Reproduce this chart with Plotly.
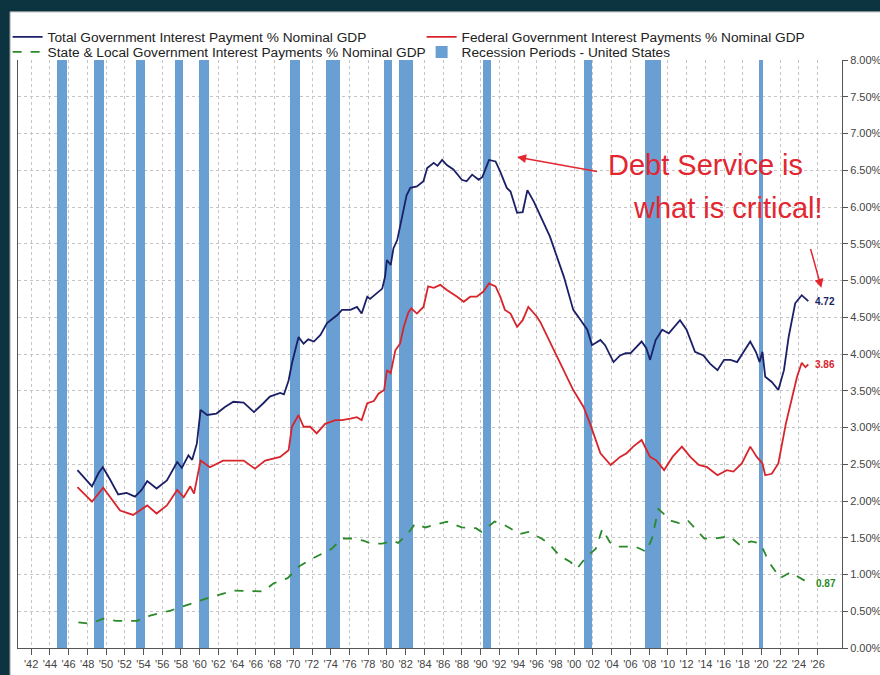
import plotly.graph_objects as go

# values (year, % of nominal GDP)
total_year = [1946.95, 1947.7, 1948.5, 1949.2, 1949.66, 1950.4, 1951.3, 1952.2, 1953.1, 1953.8,
              1954.4, 1955.4, 1956.5, 1957.6, 1958.1, 1958.8, 1959.2, 1959.7, 1960.1, 1960.8,
              1961.8, 1962.7, 1963.6, 1964.7, 1965.8, 1966.8, 1967.5, 1968.6, 1969.0, 1969.5,
              1969.85, 1970.56, 1971.1, 1971.6, 1972.2, 1972.9, 1973.6, 1974.7, 1975.2, 1976.1,
              1976.8, 1977.3, 1977.9, 1978.2, 1978.9, 1979.5, 1979.8, 1980.0, 1980.4, 1980.7,
              1981.1, 1981.6, 1982.1, 1982.5, 1983.2, 1983.9, 1984.3, 1985.0, 1985.4, 1985.9,
              1986.4, 1987.1, 1988.0, 1988.5, 1989.1, 1989.8, 1990.2, 1990.9, 1991.6, 1992.1,
              1992.8, 1993.2, 1993.9, 1994.5, 1995.0, 1995.7, 1996.4, 1997.4, 1998.9, 1999.9,
              2000.7, 2001.4, 2001.9, 2002.8, 2003.3, 2004.2, 2004.9, 2005.5, 2006.0, 2007.2,
              2007.7, 2008.1, 2008.7, 2009.4, 2010.1, 2010.6, 2011.3, 2012.0, 2012.9, 2013.8,
              2014.5, 2015.3, 2016.0, 2016.7, 2017.4, 2018.1, 2018.8, 2019.4, 2019.8, 2020.1,
              2020.4, 2021.1, 2021.8, 2022.4, 2022.9, 2023.6, 2024.3, 2025.0]
total_val = [2.42, 2.32, 2.20, 2.38, 2.46, 2.30, 2.09, 2.11, 2.06, 2.15,
             2.27, 2.17, 2.28, 2.53, 2.45, 2.62, 2.56, 2.78, 3.24, 3.17,
             3.19, 3.28, 3.35, 3.34, 3.21, 3.33, 3.42, 3.47, 3.45, 3.64,
             3.87, 4.23, 4.14, 4.20, 4.17, 4.26, 4.42, 4.53, 4.60, 4.60,
             4.64, 4.55, 4.78, 4.75, 4.83, 4.89, 5.05, 5.28, 5.21, 5.44,
             5.55, 5.87, 6.16, 6.26, 6.28, 6.35, 6.53, 6.60, 6.56, 6.64,
             6.57, 6.51, 6.37, 6.35, 6.44, 6.37, 6.41, 6.64, 6.62, 6.48,
             6.26, 6.21, 5.92, 5.93, 6.23, 6.07, 5.87, 5.60, 5.05, 4.60,
             4.46, 4.33, 4.12, 4.19, 4.12, 3.89, 3.98, 4.01, 4.01, 4.17,
             4.08, 3.92, 4.19, 4.33, 4.28, 4.35, 4.46, 4.33, 4.03, 3.98,
             3.87, 3.78, 3.92, 3.92, 3.89, 4.03, 4.17, 4.03, 3.89, 4.03,
             3.69, 3.62, 3.51, 3.78, 4.23, 4.69, 4.80, 4.72]

fed_year = [1946.95, 1948.5, 1949.7, 1951.5, 1952.9, 1954.4, 1955.4, 1956.5, 1957.6, 1958.3,
            1959.0, 1959.4, 1960.1, 1961.1, 1962.5, 1964.7, 1965.9, 1967.0, 1968.6, 1969.5,
            1969.85, 1970.56, 1971.1, 1971.8, 1972.5, 1973.4, 1974.5, 1975.2, 1976.1, 1976.8,
            1977.3, 1977.9, 1978.6, 1979.1, 1979.7, 1980.0, 1980.4, 1980.9, 1981.4, 1981.8,
            1982.3, 1982.6, 1983.2, 1983.9, 1984.4, 1985.0, 1985.7, 1986.4, 1987.5, 1988.2,
            1988.9, 1989.6, 1990.3, 1990.9, 1991.6, 1992.1, 1992.6, 1993.2, 1993.9, 1994.5,
            1995.1, 1996.0, 1996.4, 1998.2, 1999.9, 2001.0, 2001.7, 2002.8, 2003.9, 2004.9,
            2005.6, 2006.3, 2007.2, 2008.1, 2008.8, 2009.6, 2010.5, 2011.5, 2012.4, 2013.3,
            2014.2, 2015.3, 2016.3, 2017.0, 2017.9, 2018.8, 2019.5, 2020.1, 2020.4, 2021.1,
            2021.8, 2022.6, 2023.3, 2023.8, 2024.3, 2024.7, 2025.0]
fed_val = [2.19, 1.99, 2.18, 1.87, 1.81, 1.94, 1.83, 1.94, 2.15, 2.05,
           2.20, 2.10, 2.55, 2.46, 2.55, 2.55, 2.44, 2.55, 2.60, 2.69,
           3.01, 3.17, 3.01, 3.01, 2.92, 3.05, 3.10, 3.10, 3.12, 3.14,
           3.10, 3.33, 3.36, 3.46, 3.51, 3.78, 3.74, 4.05, 4.14, 4.37,
           4.57, 4.62, 4.55, 4.64, 4.92, 4.90, 4.94, 4.87, 4.78, 4.71,
           4.78, 4.78, 4.85, 4.96, 4.92, 4.78, 4.60, 4.55, 4.37, 4.46,
           4.64, 4.51, 4.43, 3.96, 3.51, 3.28, 3.05, 2.65, 2.49, 2.60,
           2.65, 2.74, 2.83, 2.60, 2.55, 2.42, 2.60, 2.74, 2.60, 2.49,
           2.46, 2.35, 2.42, 2.40, 2.51, 2.74, 2.60, 2.51, 2.35, 2.37,
           2.51, 3.05, 3.42, 3.69, 3.88, 3.82, 3.86]

sl_year = [1947.05, 1948.3, 1949.7, 1951.1, 1953.3, 1954.7, 1956.9, 1959.0, 1961.1, 1963.6,
           1966.8, 1967.9, 1969.4, 1970.6, 1972.1, 1974.1, 1975.2, 1976.4, 1977.5, 1978.3,
           1979.5, 1980.6, 1981.2, 1982.2, 1983.0, 1984.1, 1986.4, 1988.0, 1989.5, 1990.1,
           1991.5, 1992.6, 1994.2, 1995.1, 1996.5, 1997.3, 1998.4, 1999.6, 2000.3, 2001.3,
           2002.3, 2003.0, 2003.8, 2004.4, 2006.5, 2007.7, 2008.3, 2009.0, 2010.4, 2011.2,
           2012.1, 2013.9, 2015.0, 2016.6, 2017.7, 2018.9, 2019.9, 2020.8, 2022.0, 2023.1,
           2023.9, 2025.1]
sl_val = [0.35, 0.33, 0.40, 0.37, 0.37, 0.44, 0.51, 0.60, 0.69, 0.78,
          0.77, 0.88, 0.95, 1.11, 1.22, 1.35, 1.49, 1.49, 1.46, 1.42,
          1.42, 1.46, 1.43, 1.55, 1.69, 1.64, 1.72, 1.64, 1.63, 1.58,
          1.72, 1.67, 1.55, 1.58, 1.49, 1.42, 1.26, 1.17, 1.08, 1.24,
          1.35, 1.62, 1.44, 1.38, 1.38, 1.31, 1.49, 1.89, 1.73, 1.70,
          1.74, 1.49, 1.49, 1.52, 1.40, 1.45, 1.42, 1.17, 0.95, 1.03,
          0.97, 0.88]

# recession periods (start, end) as shaded in the chart
rec_start = [1944.8, 1948.7, 1953.2, 1957.4, 1959.9, 1969.6, 1973.5, 1979.7, 1981.3, 1990.3, 2001.0, 2007.6, 2019.75]
rec_end = [1945.8, 1949.8, 1954.2, 1958.2, 1961.0, 1970.7, 1975.0, 1980.5, 1982.8, 1991.1, 2001.85, 2009.3, 2020.2]
rec_top = 8.0

last_labels = ['4.72', '3.86', '0.87']

tick_years = list(range(1942, 2027, 2))
tick_text = ["'" + str(y)[2:] for y in tick_years]
y_ticks = [i * 0.5 for i in range(17)]
y_text = ['%.2f%%' % v for v in y_ticks]

NAVY = '#1b1f66'
RED = '#d8242b'
GREEN = '#2a8a2a'
BLUE = '#6a9fd4'
FRAME = '#0c3440'
PEN = '#e3262f'

fig = go.Figure()

fig.add_trace(go.Bar(
    x=[(s + e) / 2 for s, e in zip(rec_start, rec_end)],
    y=[rec_top] * len(rec_start),
    width=[e - s for s, e in zip(rec_start, rec_end)],
    marker=dict(color=BLUE, line=dict(width=0)),
    name='Recession Periods - United States', legend='legend2', legendrank=2))

fig.add_trace(go.Scatter(x=total_year, y=total_val, mode='lines',
                         line=dict(color=NAVY, width=1.8),
                         name='Total Government Interest Payment % Nominal GDP', legendrank=1))
fig.add_trace(go.Scatter(x=fed_year, y=fed_val, mode='lines',
                         line=dict(color=RED, width=1.8),
                         name='Federal Government Interest Payments % Nominal GDP', legendrank=2))
fig.add_trace(go.Scatter(x=sl_year, y=sl_val, mode='lines',
                         line=dict(color=GREEN, width=1.8, dash='dash'),
                         name='State & Local Government Interest Payments % Nominal GDP',
                         legend='legend2', legendrank=1))

# end-of-series labels
for txt, xs, ys, col in [(last_labels[0], total_year, total_val, NAVY),
                         (last_labels[1], fed_year, fed_val, RED),
                         (last_labels[2], sl_year, sl_val, GREEN)]:
    fig.add_annotation(x=xs[-1] + 0.5, y=ys[-1], text='<b>' + txt + '</b>', showarrow=False,
                       xanchor='left', yanchor='middle', font=dict(size=10, color=col))

# handwritten note
fig.add_annotation(x=2014.0, y=6.57, text='Debt Service is', showarrow=False,
                   font=dict(size=29, color=PEN, family='Liberation Sans'))
fig.add_annotation(x=2016.4, y=5.99, text='what is critical!', showarrow=False,
                   font=dict(size=29, color=PEN, family='Liberation Sans'))
fig.add_annotation(x=1993.9, y=6.68, ax=2002.6, ay=6.48, axref='x', ayref='y', xref='x', yref='y',
                   text='', showarrow=True, arrowhead=2, arrowsize=1.2, arrowwidth=1.5, arrowcolor=PEN)
fig.add_annotation(x=2026.4, y=4.9, ax=2025.2, ay=5.45, axref='x', ayref='y', xref='x', yref='y',
                   text='', showarrow=True, arrowhead=2, arrowsize=1.2, arrowwidth=1.5, arrowcolor=PEN)

# white sheet inside the dark frame
fig.add_shape(type='rect', xref='paper', yref='paper', x0=-0.0097, x1=1.06, y0=-0.06, y1=1.082,
              fillcolor='white', line=dict(color='#9a9a9a', width=1), layer='below')

leg = dict(orientation='h', xanchor='left', yanchor='middle', x=-0.0126,
           entrywidth=369, entrywidthmode='pixels', bgcolor='rgba(0,0,0,0)',
           font=dict(size=13.7, color='#222'), traceorder='normal')

fig.update_layout(
    width=880, height=675,
    margin=dict(l=18, r=38, t=60, b=27, autoexpand=False),
    paper_bgcolor=FRAME, plot_bgcolor='rgba(0,0,0,0)',
    font=dict(family='Liberation Sans, Arial, sans-serif', color='#222'),
    showlegend=True,
    legend=dict(leg, y=1.039),
    legend2=dict(leg, y=1.0136),
    bargap=0,
)
fig.update_xaxes(range=[1940.6, 2028.6], tickmode='array', tickvals=tick_years, ticktext=tick_text,
                 ticks='outside', ticklen=6, tickcolor='#555', showline=True, linecolor='#555',
                 showgrid=True, gridcolor='#c4c4c4', griddash='dot', zeroline=False,
                 tickfont=dict(size=11, color='#444'), automargin=False)
fig.update_yaxes(range=[0, 8], side='right', tickmode='array', tickvals=y_ticks, ticktext=y_text,
                 ticks='outside', ticklen=5, tickcolor='#555', showline=True, linecolor='#555',
                 mirror=True, showgrid=True, gridcolor='#c4c4c4', griddash='dot', zeroline=False,
                 tickfont=dict(size=11, color='#444'), automargin=False)

fig.write_html("out.html", config={'displayModeBar': False},
               post_script="document.body.style.margin='0';document.body.style.background='" + FRAME + "';")
